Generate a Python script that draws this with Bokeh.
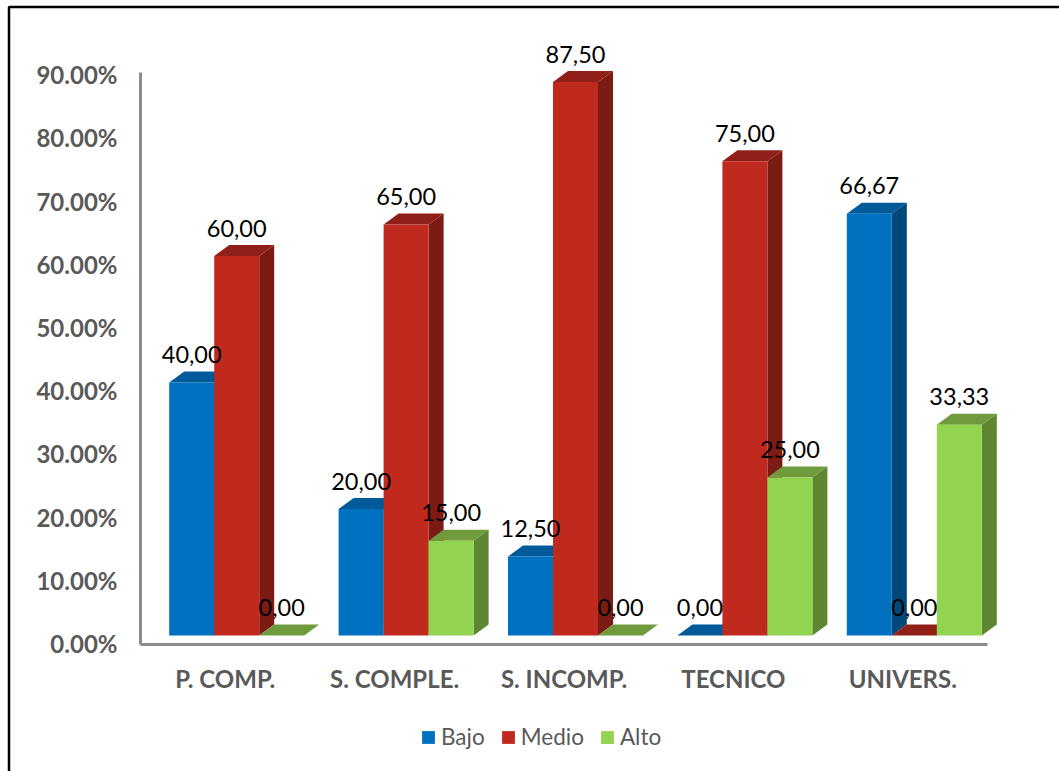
from bokeh.embed import file_html
from bokeh.resources import INLINE
from bokeh.plotting import figure
from bokeh.core.properties import value
from bokeh.models import (Range1d, LinearAxis, FixedTicker, PrintfTickFormatter,
                          Legend, LegendItem, ColumnDataSource)

categories = ["P. COMP.", "S. COMPLE.", "S. INCOMP.", "TECNICO", "UNIVERS."]
bajo = [40.00, 20.00, 12.50, 0.00, 66.67]
medio = [60.00, 65.00, 87.50, 75.00, 0.00]
alto = [0.00, 15.00, 0.00, 25.00, 33.33]
y_ticks = [0, 10, 20, 30, 40, 50, 60, 70, 80, 90]

series = [
    ("Bajo", bajo, "#0070C0", "#005A9A", "#00477A", -1),
    ("Medio", medio, "#C02A1E", "#8F1F17", "#7C1A14", 0),
    ("Alto", alto, "#92D350", "#6F9B3C", "#5F8732", 1),
]

WIDTH, HEIGHT = 1059, 771
GROUP_PX = 169.4             # pixels per category
PCT_PX = 6.325               # pixels per percentage point
LEFT_PX = 140                # left end of the category axis
BASE_PX = 635                # screen row of the columns' front base
AXIS_PX = 644                # screen row of the category axis

BAR_W = 45 / GROUP_PX
SHIFT = 11.5 / GROUP_PX      # columns sit right of the category centre
DEPTH_X = 15 / GROUP_PX      # oblique depth of each column
DEPTH_Y = 11 / PCT_PX


def x_of(px):
    return -0.5 + (px - LEFT_PX) / GROUP_PX


def y_of(py):
    return (BASE_PX - py) / PCT_PX


# The frame fills the page; both axes are pinned inside it
p = figure(width=WIDTH, height=HEIGHT,
           x_range=Range1d(x_of(0), x_of(WIDTH)),
           y_range=Range1d(y_of(HEIGHT), y_of(0)),
           output_backend="svg", toolbar_location=None,
           x_axis_location=None, y_axis_location=None,
           min_border=0)
p.grid.visible = False
p.outline_line_color = None
p.background_fill_color = "white"
p.border_fill_color = "white"

# Chart border, open past the right and bottom page edges
p.line([x_of(8.5), x_of(8.5), x_of(WIDTH)], [y_of(HEIGHT), y_of(6.5), y_of(6.5)],
       line_color="black", line_width=2.5)

items = []
for name, vals, front, top, side, slot in series:
    cx = [i + SHIFT + slot * BAR_W for i in range(len(vals))]
    top_xs, top_ys, side_xs, side_ys = [], [], [], []
    for c, v in zip(cx, vals):
        l, r = c - BAR_W / 2, c + BAR_W / 2
        top_xs.append([l, r, r + DEPTH_X, l + DEPTH_X])
        top_ys.append([v, v, v + DEPTH_Y, v + DEPTH_Y])
        if v > 0:
            side_xs.append([r, r + DEPTH_X, r + DEPTH_X, r])
            side_ys.append([0, DEPTH_Y, v + DEPTH_Y, v])
    p.patches(side_xs, side_ys, fill_color=side, line_color=None)
    p.patches(top_xs, top_ys, fill_color=top, line_color=None)
    bars = p.vbar(x=cx, top=vals, bottom=0, width=BAR_W,
                  fill_color=front, line_color=None)
    items.append(LegendItem(label=name, renderers=[bars]))

# Value labels go on last so they sit above every column
for name, vals, front, top, side, slot in series:
    src = ColumnDataSource(dict(
        x=[i + SHIFT + slot * BAR_W for i in range(len(vals))],
        y=vals,
        t=[f"{v:.2f}".replace(".", ",") for v in vals],
    ))
    p.text("x", "y", text="t", source=src, y_offset=-28,
           text_align="center", text_baseline="middle",
           text_font=value("Lato"), text_font_size="23.5px", text_color="#000000")

AXIS_GREY = "#8C8C8C"
LABEL_GREY = "#595959"

# Percent labels run on their own scale, 0 % sitting on the axis row
TICK_PX = 6.32
TICK_ZERO_PX = 643
p.extra_y_ranges["ticks"] = Range1d((TICK_ZERO_PX - HEIGHT) / TICK_PX, TICK_ZERO_PX / TICK_PX)
y_axis = LinearAxis(y_range_name="ticks",
                    bounds=((TICK_ZERO_PX - AXIS_PX) / TICK_PX, (TICK_ZERO_PX - 72) / TICK_PX),
                    fixed_location=x_of(LEFT_PX),
                    ticker=FixedTicker(ticks=y_ticks),
                    formatter=PrintfTickFormatter(format="%.2f%%"))
y_axis.axis_line_color = AXIS_GREY
y_axis.axis_line_width = 3
y_axis.major_tick_line_color = None
y_axis.minor_tick_line_color = None
y_axis.major_label_standoff = 17
y_axis.major_label_text_font = "Lato"
y_axis.major_label_text_font_size = "24px"
y_axis.major_label_text_font_style = "bold"
y_axis.major_label_text_color = LABEL_GREY
p.add_layout(y_axis, "left")

x_axis = LinearAxis(bounds=(-0.5, 4.5), fixed_location=y_of(AXIS_PX),
                    ticker=FixedTicker(ticks=list(range(len(categories)))),
                    major_label_overrides={i: c for i, c in enumerate(categories)})
x_axis.axis_line_color = AXIS_GREY
x_axis.axis_line_width = 3
x_axis.major_tick_line_color = None
x_axis.minor_tick_line_color = None
x_axis.major_label_standoff = 13
x_axis.major_label_text_font = "Lato"
x_axis.major_label_text_font_size = "24px"
x_axis.major_label_text_font_style = "bold"
x_axis.major_label_text_color = LABEL_GREY
p.add_layout(x_axis, "below")

legend = Legend(items=items, orientation="horizontal", location=(420, 21),
                border_line_color=None, background_fill_alpha=0,
                glyph_width=16, glyph_height=16, spacing=15, label_standoff=5,
                padding=6, margin=0,
                label_text_font="Lato", label_text_font_size="22.5px",
                label_text_color=LABEL_GREY)
p.add_layout(legend, "center")

open("out.html", "w").write(file_html(p, INLINE))
